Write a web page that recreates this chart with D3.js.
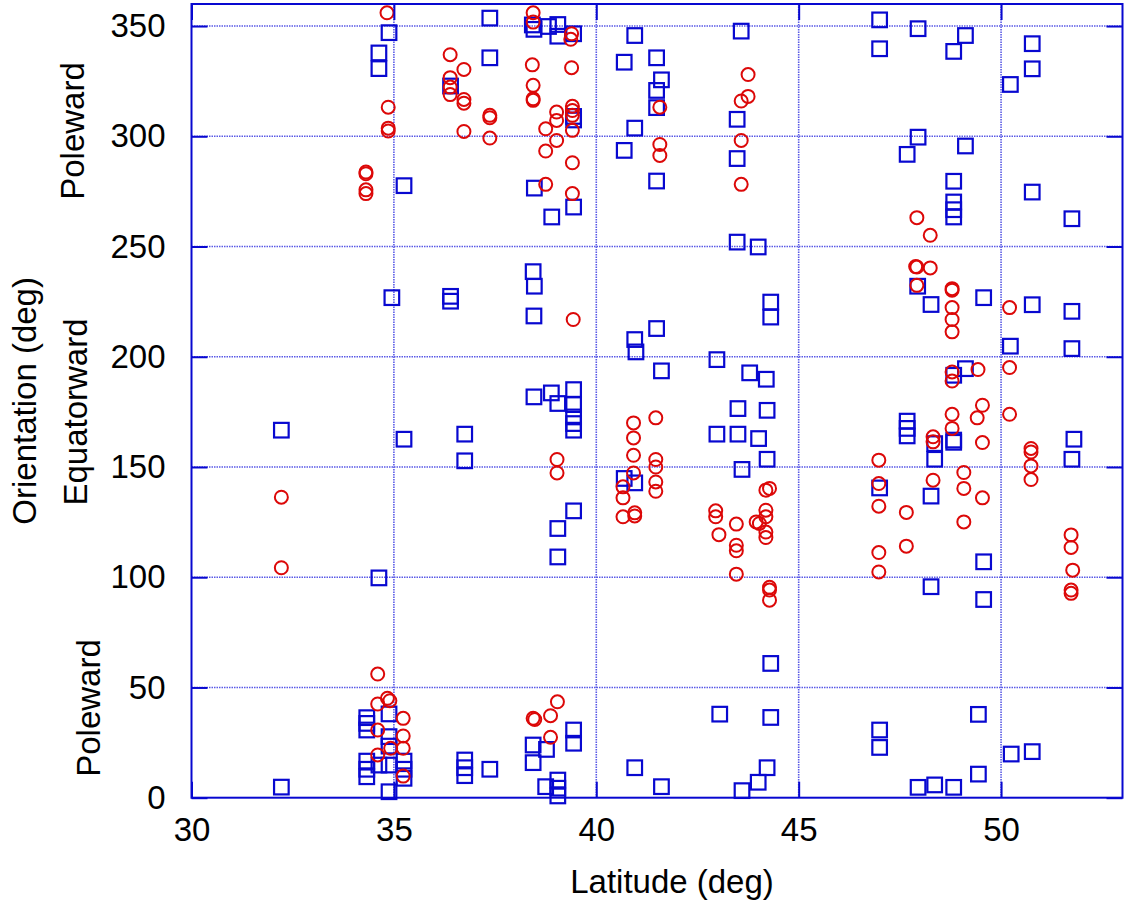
<!DOCTYPE html>
<html>
<head>
<meta charset="utf-8">
<script src="https://cdn.jsdelivr.net/npm/d3@7"></script>
<style>
  html, body { margin: 0; padding: 0; background: #fff; }
  svg { display: block; }
  text { font-family: "Liberation Sans", Arial, Helvetica, sans-serif; fill: #000; }
</style>
</head>
<body>
<svg id="chart" width="1124" height="916"></svg>
<script>
// Axis ticks
const xTicks = [30, 35, 40, 45, 50];
const yTicks = [0, 50, 100, 150, 200, 250, 300, 350];

// Direction annotations beside the orientation axis
const sideLabels = ["Poleward", "Equatorward", "Poleward"];

// Blue squares: [latitude, orientation]
const squarePoints = [
  [32.22, 166.7], [32.22, 4.8],
  [34.33, 36.3], [34.33, 33.7], [34.33, 30.7], [34.33, 16.6], [34.33, 12.9], [34.33, 9.5],
  [34.63, 337.8], [34.63, 330.7], [34.63, 99.7], [34.63, 14.8],
  [34.88, 347.0], [34.88, 38.0], [34.88, 27.7], [34.88, 23.4], [34.88, 14.8], [34.88, 2.7],
  [34.95, 226.8],
  [35.25, 277.6], [35.25, 162.6], [35.25, 16.6], [35.25, 12.9], [35.25, 8.8],
  [36.40, 322.8], [36.40, 227.4], [36.40, 225.2],
  [36.75, 164.9], [36.75, 152.8], [36.75, 17.1], [36.75, 13.6], [36.75, 10.0],
  [37.37, 353.6], [37.37, 335.6], [37.37, 12.9],
  [38.42, 350.5], [38.46, 348.5], [38.47, 276.5], [38.44, 238.6], [38.47, 232.0], [38.46, 218.5],
  [38.46, 181.8], [38.44, 23.9], [38.44, 15.9],
  [38.82, 349.8], [38.90, 263.4], [38.89, 183.6], [38.77, 21.9], [38.75, 5.0],
  [39.05, 350.7], [39.05, 345.4], [39.05, 178.8], [39.05, 122.1], [39.05, 109.2],
  [39.05, 8.0], [39.05, 4.3], [39.05, 0.8],
  [39.44, 346.5], [39.44, 309.0], [39.44, 307.4], [39.44, 267.9], [39.44, 185.1], [39.44, 178.3],
  [39.44, 172.7], [39.44, 169.7], [39.44, 166.7], [39.44, 130.1], [39.44, 30.7], [39.44, 24.7],
  [40.69, 333.6], [40.69, 293.6], [40.69, 144.8],
  [40.95, 345.7], [40.95, 303.7], [40.95, 207.8], [40.95, 142.8], [40.95, 13.6],
  [40.98, 202.2],
  [41.49, 335.6], [41.49, 320.8], [41.49, 313.0], [41.49, 279.7], [41.49, 212.8],
  [41.61, 325.6], [41.61, 193.6], [41.61, 5.0],
  [42.98, 198.7], [42.98, 164.9], [43.05, 37.9],
  [43.48, 307.7], [43.48, 289.9], [43.48, 252.0], [43.50, 176.5], [43.50, 164.9],
  [43.58, 347.7], [43.60, 148.9], [43.60, 3.2],
  [43.79, 192.7],
  [44.00, 249.8], [44.01, 162.9], [44.00, 7.0],
  [44.20, 189.8], [44.22, 175.7], [44.22, 153.5], [44.22, 13.6],
  [44.31, 224.8], [44.31, 218.0], [44.31, 60.9], [44.31, 36.4],
  [47.00, 352.8], [47.00, 339.7], [47.00, 140.5], [47.00, 30.7], [47.00, 22.8],
  [47.68, 291.8], [47.68, 170.8], [47.68, 167.5], [47.68, 164.1],
  [47.95, 348.8], [47.95, 299.6], [47.94, 232.0], [47.95, 4.7],
  [48.27, 223.7], [48.27, 136.8], [48.27, 95.7],
  [48.36, 160.6], [48.36, 153.5], [48.36, 5.8],
  [48.83, 338.5], [48.83, 279.6], [48.83, 270.2], [48.83, 266.7], [48.83, 263.4],
  [48.83, 191.6], [48.83, 162.2], [48.83, 161.2], [48.83, 4.7],
  [49.12, 345.7], [49.12, 295.6], [49.12, 194.6],
  [49.44, 37.8], [49.44, 10.7],
  [49.57, 226.8], [49.57, 107.0], [49.57, 89.9],
  [50.23, 323.5], [50.23, 204.8], [50.25, 19.8],
  [50.77, 342.0], [50.77, 330.6], [50.77, 274.7], [50.77, 223.6], [50.77, 20.9],
  [51.75, 262.6], [51.75, 220.6], [51.75, 203.7], [51.75, 153.5], [51.80, 162.6]
];

// Red circles: [latitude, orientation]
const circlePoints = [
  [32.22, 136.3], [32.22, 104.3],
  [34.31, 283.8], [34.31, 283.0], [34.31, 275.7], [34.31, 274.0],
  [34.60, 56.1], [34.60, 42.5], [34.60, 30.7], [34.60, 19.4],
  [34.83, 356.0], [34.86, 313.2], [34.86, 303.7], [34.86, 302.4],
  [34.84, 45.1], [34.90, 44.0], [34.92, 22.4],
  [35.23, 36.0], [35.23, 28.0], [35.23, 22.4], [35.23, 9.8],
  [36.39, 337.0], [36.39, 326.6], [36.39, 322.3], [36.39, 318.9],
  [36.73, 330.3], [36.73, 316.7], [36.73, 315.0], [36.73, 302.2],
  [37.37, 309.5], [37.37, 308.4], [37.37, 299.2],
  [38.44, 356.0], [38.44, 351.8], [38.42, 332.4], [38.44, 323.1], [38.44, 317.0], [38.44, 316.3],
  [38.44, 36.0], [38.48, 35.5],
  [38.75, 303.4], [38.75, 293.3], [38.75, 278.2], [38.87, 37.2], [38.87, 27.4],
  [39.02, 311.0], [39.02, 307.2], [39.02, 298.1], [39.03, 153.4], [39.03, 147.3], [39.04, 43.5],
  [39.39, 346.5], [39.37, 344.0], [39.39, 331.1], [39.41, 313.6], [39.41, 311.7], [39.41, 309.5],
  [39.41, 302.7], [39.41, 288.0], [39.41, 274.0], [39.43, 216.9],
  [40.92, 170.0], [40.92, 163.2], [40.92, 155.3], [40.92, 147.3],
  [40.66, 141.0], [40.66, 136.0], [40.66, 127.4],
  [40.95, 129.2], [40.95, 127.8],
  [41.47, 172.3], [41.47, 153.4], [41.47, 150.0], [41.47, 143.2], [41.47, 139.0],
  [41.57, 313.2], [41.57, 296.3], [41.57, 291.3],
  [42.95, 130.1], [42.95, 127.4], [43.03, 119.3],
  [43.46, 124.1], [43.46, 114.5], [43.46, 112.0], [43.46, 101.4],
  [43.58, 316.0], [43.58, 298.1], [43.58, 278.2],
  [43.75, 328.0], [43.75, 318.1],
  [43.95, 125.1], [44.03, 124.4],
  [44.19, 139.5], [44.19, 130.4], [44.19, 127.4], [44.19, 120.5], [44.19, 118.0],
  [44.28, 140.3], [44.28, 95.4], [44.28, 94.2], [44.28, 89.6],
  [46.98, 153.1], [46.98, 142.5], [46.98, 132.2], [46.98, 111.2], [46.98, 102.4],
  [47.66, 129.4], [47.66, 114.1],
  [47.92, 263.1], [47.92, 240.7], [47.89, 240.9], [47.92, 232.4],
  [48.25, 255.1], [48.25, 240.3],
  [48.32, 163.7], [48.32, 161.4], [48.32, 144.0],
  [48.79, 230.9], [48.79, 230.2], [48.79, 222.3], [48.79, 216.9], [48.79, 211.3],
  [48.79, 193.1], [48.79, 189.0], [48.79, 173.9], [48.79, 167.5],
  [49.08, 147.5], [49.08, 140.3], [49.08, 125.1],
  [49.41, 172.3], [49.43, 194.2],
  [49.54, 178.0], [49.54, 161.1], [49.54, 136.0],
  [50.21, 222.3], [50.21, 195.1], [50.21, 173.9],
  [50.74, 158.4], [50.74, 156.8], [50.74, 150.5], [50.74, 144.3],
  [51.73, 119.2], [51.73, 113.5], [51.77, 103.2], [51.73, 94.2], [51.73, 92.7]
];

const svg = d3.select("#chart");
const plot = { left: 191.5, right: 1122.5, top: 4, bottom: 797.7 };

const x = d3.scaleLinear().domain([30, 53]).range([plot.left, plot.right]);
const y = d3.scaleLinear().domain([0, 360]).range([plot.bottom, plot.top]);

const axisBlue = "#0808d0";
const gridBlue = "#5a5ae6";
const markBlue = "#0808d0";
const markRed = "#dc0808";
const tickLen = 16;

// Dotted grid at every major tick
const grid = svg.append("g");
grid.selectAll(".gx").data(xTicks.slice(1)).join("line")
  .attr("x1", d => x(d)).attr("x2", d => x(d))
  .attr("y1", plot.top).attr("y2", plot.bottom)
  .attr("stroke", gridBlue).attr("stroke-width", 1.6).attr("stroke-dasharray", "1.5,1");
grid.selectAll(".gy").data(yTicks.slice(1)).join("line")
  .attr("x1", plot.left).attr("x2", plot.right)
  .attr("y1", d => y(d)).attr("y2", d => y(d))
  .attr("stroke", gridBlue).attr("stroke-width", 1.6).attr("stroke-dasharray", "1.5,1");

// Markers
const sq = 14.6;
svg.append("g").selectAll("rect").data(squarePoints).join("rect")
  .attr("x", d => x(d[0]) - sq / 2).attr("y", d => y(d[1]) - sq / 2)
  .attr("width", sq).attr("height", sq)
  .attr("fill", "none").attr("stroke", markBlue).attr("stroke-width", 2.2);

svg.append("g").selectAll("circle").data(circlePoints).join("circle")
  .attr("cx", d => x(d[0])).attr("cy", d => y(d[1])).attr("r", 6.5)
  .attr("fill", "none").attr("stroke", markRed).attr("stroke-width", 2);

// Axes drawn with inward ticks, mirrored on all four sides
const frame = svg.append("g");
const bottomAxis = d3.axisBottom(x).tickValues(xTicks).tickSize(-tickLen).tickFormat(d3.format("d")).tickPadding(20);
const topAxis = d3.axisTop(x).tickValues(xTicks).tickSize(-tickLen).tickFormat("");
const leftAxis = d3.axisLeft(y).tickValues(yTicks).tickSize(-tickLen).tickFormat(d3.format("d")).tickPadding(26);
const rightAxis = d3.axisRight(y).tickValues(yTicks).tickSize(-tickLen).tickFormat("");

function styleAxis(g) {
  g.select(".domain").remove();
  g.selectAll(".tick line").attr("stroke", axisBlue).attr("stroke-width", 2);
  g.selectAll(".tick text").attr("font-size", 33).attr("fill", "#000")
    .attr("font-family", "'Liberation Sans', Arial, sans-serif");
}
frame.append("g").attr("transform", `translate(0,${plot.bottom})`).call(bottomAxis).call(styleAxis);
frame.append("g").attr("transform", `translate(0,${plot.top})`).call(topAxis).call(styleAxis);
frame.append("g").attr("transform", `translate(${plot.left},0)`).call(leftAxis).call(styleAxis);
frame.append("g").attr("transform", `translate(${plot.right},0)`).call(rightAxis).call(styleAxis);

frame.append("rect")
  .attr("x", plot.left).attr("y", plot.top)
  .attr("width", plot.right - plot.left).attr("height", plot.bottom - plot.top)
  .attr("fill", "none").attr("stroke", axisBlue).attr("stroke-width", 2);

// Axis titles
svg.append("text")
  .attr("x", 672).attr("y", 893)
  .attr("text-anchor", "middle").attr("font-size", 33)
  .text("Latitude (deg)");

svg.append("text")
  .attr("transform", `translate(36,${y(180)}) rotate(-90)`)
  .attr("text-anchor", "middle").attr("font-size", 33)
  .text("Orientation (deg)");

// Direction annotations
const sidePos = [[84, 131], [87, 412], [100, 708]];
svg.append("g").selectAll("text").data(sideLabels).join("text")
  .attr("transform", (d, i) => `translate(${sidePos[i][0]},${sidePos[i][1]}) rotate(-90)`)
  .attr("text-anchor", "middle").attr("font-size", 33)
  .text(d => d);
</script>
</body>
</html>
